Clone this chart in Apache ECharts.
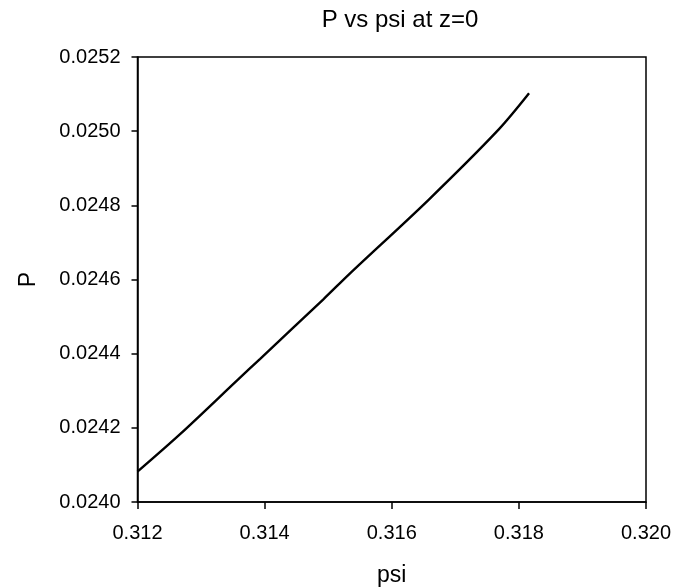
<!DOCTYPE html>
<html>
<head>
<meta charset="utf-8">
<script src="https://cdn.jsdelivr.net/npm/echarts@6/dist/echarts.min.js"></script>
<style>html,body{margin:0;padding:0;background:#fff;}#c{width:675px;height:588px;}</style>
</head>
<body>
<div id="c"></div>
<script>
var psi = [0.31200, 0.31267, 0.31358, 0.31393, 0.31492, 0.31534, 0.31658, 0.31768, 0.31816];
var P   = [0.024082, 0.024183, 0.024330, 0.024386, 0.024546, 0.024616, 0.024815, 0.025004, 0.025102];
var xTicks = ['0.312', '0.314', '0.316', '0.318', '0.320'];
var yTicks = ['0.0240', '0.0242', '0.0244', '0.0246', '0.0248', '0.0250', '0.0252'];
var titleText = 'P vs psi at z=0';
var xName = 'psi', yName = 'P';

var data = psi.map(function (v, i) { return [v, P[i]]; });
var font = 'Liberation Sans, Arial, sans-serif';
var chart = echarts.init(document.getElementById('c'));
chart.setOption({
  animation: false,
  backgroundColor: '#fff',
  title: { text: titleText, left: 395, textAlign: 'center', top: 3,
    textStyle: { fontFamily: font, fontSize: 24, fontWeight: 'normal', color: '#000' } },
  grid: { left: 137.5, right: 29, top: 57, bottom: 86, show: true, borderColor: '#000', borderWidth: 1.5,
    backgroundColor: 'transparent', containLabel: false, outerBoundsMode: 'none' },
  xAxis: {
    type: 'value', min: 0.312, max: 0.320, interval: 0.002,
    name: xName, nameLocation: 'middle', nameGap: 62,
    nameTextStyle: { fontFamily: font, fontSize: 23, color: '#000' },
    axisLine: { lineStyle: { color: '#000', width: 1.5 } },
    axisTick: { show: true, inside: false, length: 7, lineStyle: { color: '#000', width: 1.5 } },
    axisLabel: { fontFamily: font, fontSize: 20, color: '#000', margin: 21,
      formatter: function (v) { return xTicks[Math.round((v - 0.312) / 0.002)]; } },
    splitLine: { show: false }
  },
  yAxis: {
    type: 'value', min: 0.0240, max: 0.0252, interval: 0.0002,
    name: yName, nameLocation: 'middle', nameGap: 97,
    nameTextStyle: { fontFamily: font, fontSize: 23, color: '#000' },
    axisLine: { lineStyle: { color: '#000', width: 1.5 } },
    axisTick: { show: true, inside: false, length: 6, lineStyle: { color: '#000', width: 1.5 } },
    axisLabel: { fontFamily: font, fontSize: 20, color: '#000', margin: 17,
      formatter: function (v) { return yTicks[Math.round((v - 0.0240) / 0.0002)]; } },
    splitLine: { show: false }
  },
  series: [{
    type: 'line', data: data, showSymbol: false, smooth: 0.3,
    lineStyle: { color: '#000', width: 2.4 }
  }]
});
</script>
</body>
</html>
